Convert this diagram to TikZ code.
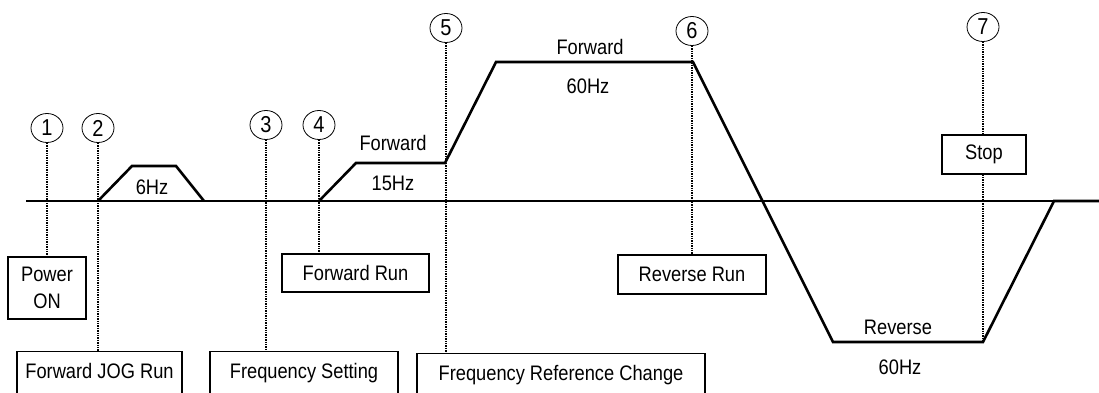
\documentclass[tikz,border=0pt]{standalone}
\usepackage{fontspec}
\setmainfont{Liberation Sans}[FakeStretch=0.87]
\usetikzlibrary{positioning,shapes}
\tikzstyle{num}=[ellipse,draw,line width=0.8pt,minimum width=32pt,minimum height=29pt,
                inner sep=0pt,font=\fontsize{23}{23}\selectfont]
\tikzstyle{tag}=[draw,line width=1.2pt,inner sep=0pt,align=center,
                font=\fontsize{21}{25}\selectfont]
\tikzstyle{open tag}=[tag,anchor=north,minimum height=50pt,text height=15pt,text depth=12pt]
\tikzstyle{hz}=[inner sep=0pt,font=\fontsize{21}{25}\selectfont]
\tikzstyle{guide}=[densely dotted,line width=1.4pt]
\tikzstyle{speed}=[line width=2.6pt]
\tikzstyle{base}=[line width=2.2pt]
\begin{document}
\begin{tikzpicture}[x=1pt,y=-1pt]
\useasboundingbox (0,0) rectangle (1099,393);
\clip (0,0) rectangle (1099,393);
% zero line and speed profile
\draw[base] (26,201) -- (1099,201);
\coordinate (j0) at (98,201);
\coordinate (j1) at (132,166);
\coordinate (j2) at (176,166);
\coordinate (j3) at (204,201);
\coordinate (r0) at (319,201);
\coordinate (r1) at (356,163);
\coordinate (r2) at (445,163);
\coordinate (r3) at (496,62);
\coordinate (r4) at (693,62);
\coordinate (r5) at (833,342);
\coordinate (r6) at (983,342);
\coordinate (r7) at (1054,201);
\coordinate (r8) at (1099,201);
\draw[speed] (j0) -- (j1) -- (j2) -- (j3);
\draw[speed] (r0) -- (r1) -- (r2) -- (r3) -- (r4) -- (r5) -- (r6) -- (r7) -- (r8);
% step numbers
\node (c1) [num] at (47,128) {1};
\node (c2) [num] at (98,128) {2};
\node (c3) [num] at (266,125) {3};
\node (c4) [num] at (319,125) {4};
\node (c5) [num] at (446,28) {5};
\node (c6) [num] at (692,31) {6};
\node (c7) [num] at (983,27) {7};
% commands
\node (power) [tag,minimum width=78pt,minimum height=62pt] at (47,288) {Power\\[2pt]ON};
\node (fwdrun) [tag,minimum width=147pt,minimum height=38pt] at (355.5,273) {Forward Run};
\node (revrun) [tag,minimum width=148pt,minimum height=39pt] at (692,274.5) {Reverse Run};
\node (stop) [tag,minimum width=84pt,minimum height=39pt] at (984,154.5) {Stop};
\node (jog) [open tag,minimum width=165pt] at (99.5,351) {Forward JOG Run};
\node (fset) [open tag,minimum width=188pt] at (304,351) {Frequency Setting};
\node (fchg) [open tag,minimum width=288pt] at (561,353) {Frequency Reference Change};
% dotted guides
\draw[guide] (c1) -- (c1 |- power.north);
\draw[guide] (c2) -- (c2 |- jog.north);
\draw[guide] (c3) -- (c3 |- fset.north);
\draw[guide] (c4) -- (c4 |- fwdrun.north);
\draw[guide] (c5) -- (c5 |- fchg.north);
\draw[guide] (c6) -- (c6 |- revrun.north);
\draw[guide] (c7) -- (c7 |- stop.north);
\draw[guide] (c7 |- stop.south) -- (r6);
% speed labels
\node (jogf) [hz] at (152,187) {6Hz};
\node (fw1) [hz] at (393,143) {Forward};
\node (fw1f) [hz] at (393,183) {15Hz};
\node (fw2) [hz] at (590,47) {Forward};
\node (fw2f) [hz] at (588,86) {60Hz};
\node (rv) [hz] at (898,327) {Reverse};
\node (rvf) [hz] at (900,367) {60Hz};
\end{tikzpicture}
\end{document}
